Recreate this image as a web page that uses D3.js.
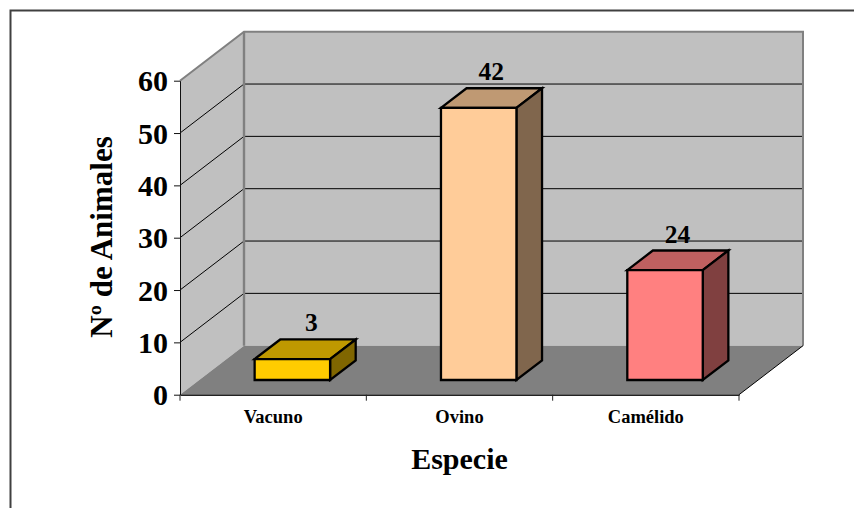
<!DOCTYPE html>
<html><head><meta charset="utf-8">
<script src="https://cdn.jsdelivr.net/npm/d3@7"></script>
<style>html,body{margin:0;padding:0;background:#fff}svg{display:block}text{font-family:"Liberation Serif",serif;font-weight:bold;fill:#000}</style>
</head><body><svg id="c" width="854" height="508"></svg>
<script>
const categories = ["Vacuno","Ovino","Camélido"];
const barHeights = [4, 52, 21];
const valueLabels = ["3","42","24"];
const frontColors = ["#ffcc00","#ffcc99","#ff8080"];
const topColors = ["#bf9900","#bf9973","#bf6060"];
const sideColors = ["#806600","#80664d","#804040"];
const yTicks = [0,10,20,30,40,50,60];

const svg = d3.select("#c");
const x = d3.scaleBand().domain(categories).range([180,739]);
const y = d3.scaleLinear().domain([0,60]).range([394.7,80.7]);
const dx = d3.scaleLinear().domain([0,1]).range([0,64]);
const dy = d3.scaleLinear().domain([0,1]).range([0,-49]);
const barShare = 0.405, d0 = 0.3, d1 = 0.7;
const poly = p => d3.line()(p) + "Z";
const X0 = x.range()[0], X1 = x.range()[1];

svg.append("path").attr("d","M10.5,520V10.5H870").attr("fill","none").attr("stroke","#404040").attr("stroke-width",2);

// walls
svg.append("path").attr("d",poly([[X0,y(0)],[X0,y(60)],[X0+dx(1),y(60)+dy(1)],[X0+dx(1),y(0)+dy(1)]])).attr("fill","#c0c0c0");
svg.append("path").attr("d",poly([[X0+dx(1),y(0)+dy(1)],[X0+dx(1),y(60)+dy(1)],[X1+dx(1),y(60)+dy(1)],[X1+dx(1),y(0)+dy(1)]])).attr("fill","#c0c0c0");
// floor
svg.append("path").attr("d",poly([[X0,y(0)],[X1,y(0)],[X1+dx(1),y(0)+dy(1)],[X0+dx(1),y(0)+dy(1)]])).attr("fill","#808080");

// gridlines
yTicks.filter(t=>t>0&&t<60).forEach(t=>{
  svg.append("path").attr("d",d3.line()([[X0,y(t)],[X0+dx(1),y(t)+dy(1)],[X1+dx(1),y(t)+dy(1)]]))
    .attr("fill","none").attr("stroke","#000").attr("stroke-width",1);
});
// wall edges
svg.append("path").attr("d",d3.line()([[X0,y(60)],[X0+dx(1),y(60)+dy(1)],[X1+dx(1),y(60)+dy(1)],[X1+dx(1),y(0)+dy(1)]]))
  .attr("fill","none").attr("stroke","#808080").attr("stroke-width",2);
svg.append("path").attr("d",d3.line()([[X0+dx(1),y(60)+dy(1)],[X0+dx(1),y(0)+dy(1)]]))
  .attr("fill","none").attr("stroke","#808080").attr("stroke-width",2.4);
svg.append("path").attr("d",d3.line()([[X1,y(0)],[X1+dx(1),y(0)+dy(1)]]))
  .attr("fill","none").attr("stroke","#000").attr("stroke-width",1);

// axes
const yAxis = svg.append("g").attr("transform",`translate(${X0},0)`)
  .call(d3.axisLeft(y).tickValues(yTicks).tickSize(6).tickPadding(6).tickSizeOuter(0));
yAxis.selectAll("text").attr("font-size",30).attr("dy","0.34em").style("font-family",'"Liberation Serif",serif').style("font-weight","bold");
yAxis.selectAll("path,line").attr("stroke","#111").attr("stroke-width",1);

const xAxis = svg.append("g").attr("transform",`translate(0,${y(0)})`)
  .call(d3.axisBottom(x).tickSize(0).tickPadding(15).tickSizeOuter(0));
xAxis.selectAll("text").attr("font-size",18.5).style("font-family",'"Liberation Serif",serif').style("font-weight","bold");
xAxis.select("path").attr("stroke","#222").attr("stroke-width",1.6);
const edges = categories.map(c=>x(c)).concat([X1]);
svg.selectAll(".xt").data(edges).join("line").attr("class","xt")
  .attr("x1",d=>d).attr("x2",d=>d).attr("y1",y(0)).attr("y2",y(0)+6).attr("stroke","#222").attr("stroke-width",1);

// bars
const bars = svg.selectAll(".bar").data(categories).join("g").attr("class","bar")
  .attr("stroke","#000").attr("stroke-width",2.3).attr("stroke-linejoin","miter");
bars.each(function(c,i){
  const g = d3.select(this), bw = x.bandwidth()*barShare;
  const l = x(c)+(x.bandwidth()-bw)/2+dx(d0), r = l+bw;
  const b = y(0)+dy(d0), t = y(barHeights[i])+dy(d0);
  const ox = dx(d1-d0), oy = dy(d1-d0);
  g.append("path").attr("d",poly([[l,t],[l+ox,t+oy],[r+ox,t+oy],[r,t]])).attr("fill",topColors[i]);
  g.append("path").attr("d",poly([[r,t],[r+ox,t+oy],[r+ox,b+oy],[r,b]])).attr("fill",sideColors[i]);
  g.append("path").attr("d",poly([[l,t],[r,t],[r,b],[l,b]])).attr("fill",frontColors[i]);
  svg.append("text").attr("x",l+63).attr("y",t+oy-8).attr("text-anchor","end").attr("font-size",25.5).text(valueLabels[i]);
});

svg.append("text").attr("transform","translate(112,237) rotate(-90)").attr("text-anchor","middle").attr("font-size",31).text("Nº de Animales");
svg.append("text").attr("x",459.5).attr("y",469).attr("text-anchor","middle").attr("font-size",30).text("Especie");
</script></body></html>
